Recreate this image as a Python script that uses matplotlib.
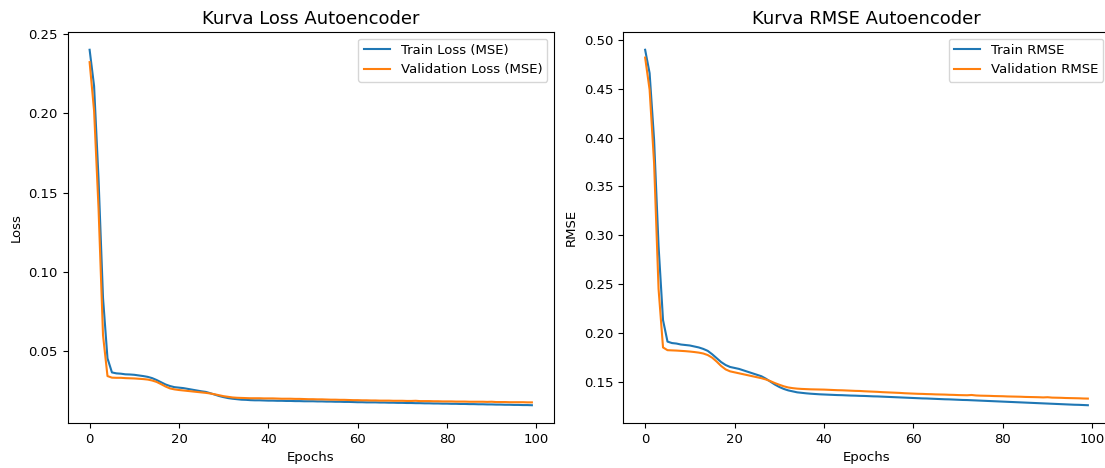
import numpy as np
import matplotlib
matplotlib.use("Agg")
import matplotlib.pyplot as plt

# values (100 epochs)
train_loss = [
    0.2401, 0.2172, 0.1584, 0.0835, 0.0454, 0.0365, 0.0359, 0.0357, 0.0353, 0.0352,
    0.0350, 0.0346, 0.0342, 0.0337, 0.0329, 0.0317, 0.0303, 0.0289, 0.0279, 0.0272,
    0.0269, 0.0266, 0.0261, 0.0256, 0.0251, 0.0246, 0.0242, 0.0234, 0.0225, 0.0216,
    0.0209, 0.0203, 0.0199, 0.0196, 0.0193, 0.0192, 0.0190, 0.0189, 0.0189, 0.0188,
    0.0187, 0.0187, 0.0186, 0.0186, 0.0185, 0.0185, 0.0184, 0.0184, 0.0183, 0.0183,
    0.0183, 0.0182, 0.0182, 0.0181, 0.0181, 0.0180, 0.0180, 0.0179, 0.0179, 0.0178,
    0.0177, 0.0177, 0.0176, 0.0176, 0.0176, 0.0175, 0.0175, 0.0174, 0.0174, 0.0173,
    0.0173, 0.0172, 0.0172, 0.0171, 0.0171, 0.0170, 0.0170, 0.0169, 0.0169, 0.0168,
    0.0168, 0.0167, 0.0167, 0.0166, 0.0166, 0.0165, 0.0165, 0.0164, 0.0164, 0.0163,
    0.0163, 0.0162, 0.0162, 0.0161, 0.0161, 0.0160, 0.0160, 0.0159, 0.0159, 0.0158,
]
val_loss = [
    0.2323, 0.2016, 0.1399, 0.0600, 0.0342, 0.0332, 0.0331, 0.0331, 0.0329, 0.0328,
    0.0327, 0.0325, 0.0323, 0.0320, 0.0314, 0.0305, 0.0291, 0.0276, 0.0264, 0.0258,
    0.0254, 0.0251, 0.0248, 0.0245, 0.0242, 0.0239, 0.0236, 0.0232, 0.0227, 0.0221,
    0.0215, 0.0211, 0.0207, 0.0205, 0.0204, 0.0203, 0.0202, 0.0202, 0.0202, 0.0201,
    0.0201, 0.0201, 0.0200, 0.0199, 0.0199, 0.0199, 0.0198, 0.0198, 0.0197, 0.0196,
    0.0196, 0.0195, 0.0195, 0.0194, 0.0193, 0.0193, 0.0192, 0.0192, 0.0191, 0.0190,
    0.0190, 0.0189, 0.0189, 0.0188, 0.0188, 0.0187, 0.0187, 0.0187, 0.0186, 0.0186,
    0.0186, 0.0185, 0.0185, 0.0186, 0.0184, 0.0184, 0.0184, 0.0183, 0.0183, 0.0182,
    0.0182, 0.0182, 0.0181, 0.0181, 0.0181, 0.0180, 0.0180, 0.0180, 0.0180, 0.0179,
    0.0180, 0.0178, 0.0178, 0.0178, 0.0177, 0.0177, 0.0177, 0.0177, 0.0176, 0.0176,
]
train_rmse = [
    0.4900, 0.4660, 0.3980, 0.2890, 0.2130, 0.1910, 0.1895, 0.1890, 0.1880, 0.1875,
    0.1870, 0.1860, 0.1850, 0.1835, 0.1815, 0.1780, 0.1740, 0.1700, 0.1670, 0.1650,
    0.1640, 0.1630, 0.1615, 0.1600, 0.1585, 0.1570, 0.1555, 0.1530, 0.1500, 0.1470,
    0.1445, 0.1425, 0.1410, 0.1400, 0.1390, 0.1385, 0.1380, 0.1376, 0.1373, 0.1370,
    0.1368, 0.1366, 0.1364, 0.1362, 0.1361, 0.1359, 0.1357, 0.1356, 0.1354, 0.1353,
    0.1351, 0.1349, 0.1348, 0.1346, 0.1344, 0.1342, 0.1340, 0.1338, 0.1336, 0.1334,
    0.1332, 0.1330, 0.1328, 0.1327, 0.1325, 0.1323, 0.1321, 0.1319, 0.1318, 0.1316,
    0.1314, 0.1312, 0.1311, 0.1309, 0.1307, 0.1305, 0.1303, 0.1301, 0.1299, 0.1297,
    0.1295, 0.1293, 0.1291, 0.1289, 0.1287, 0.1285, 0.1283, 0.1281, 0.1279, 0.1277,
    0.1275, 0.1273, 0.1271, 0.1269, 0.1267, 0.1265, 0.1263, 0.1262, 0.1260, 0.1258,
]
val_rmse = [
    0.4820, 0.4490, 0.3740, 0.2450, 0.1850, 0.1822, 0.1820, 0.1818, 0.1815, 0.1812,
    0.1808, 0.1803, 0.1797, 0.1788, 0.1772, 0.1745, 0.1705, 0.1660, 0.1625, 0.1605,
    0.1595, 0.1585, 0.1575, 0.1565, 0.1555, 0.1545, 0.1535, 0.1522, 0.1505, 0.1485,
    0.1468, 0.1452, 0.1440, 0.1433, 0.1428, 0.1425, 0.1423, 0.1421, 0.1420, 0.1419,
    0.1418, 0.1416, 0.1414, 0.1412, 0.1411, 0.1409, 0.1407, 0.1405, 0.1404, 0.1401,
    0.1399, 0.1397, 0.1395, 0.1392, 0.1390, 0.1388, 0.1386, 0.1384, 0.1381, 0.1379,
    0.1377, 0.1375, 0.1374, 0.1372, 0.1371, 0.1369, 0.1368, 0.1367, 0.1365, 0.1364,
    0.1362, 0.1361, 0.1360, 0.1363, 0.1358, 0.1356, 0.1355, 0.1354, 0.1352, 0.1351,
    0.1350, 0.1348, 0.1347, 0.1346, 0.1345, 0.1343, 0.1342, 0.1341, 0.1340, 0.1338,
    0.1340, 0.1336, 0.1335, 0.1334, 0.1332, 0.1331, 0.1330, 0.1329, 0.1327, 0.1326,
]
epochs = np.arange(len(train_loss))

fig = plt.figure(figsize=(11.05, 4.68), dpi=100)
W, H = 1105, 468
ax1 = fig.add_axes([67.5 / W, (H - 423) / H, (554 - 67.5) / W, (423 - 32) / H])
ax2 = fig.add_axes([623 / W, (H - 423) / H, (1110 - 623) / W, (423 - 32) / H])

fs = 9.5
ax1.plot(epochs, train_loss, label='Train Loss (MSE)', lw=1.5)
ax1.plot(epochs, val_loss, label='Validation Loss (MSE)', lw=1.5)
ax1.set_title('Kurva Loss Autoencoder', fontsize=13)
ax1.set_xlabel('Epochs', fontsize=fs)
ax1.set_ylabel('Loss', fontsize=fs)
ax1.legend(fontsize=fs, loc='upper right')

ax2.plot(epochs, train_rmse, label='Train RMSE', lw=1.5)
ax2.plot(epochs, val_rmse, label='Validation RMSE', lw=1.5)
ax2.set_title('Kurva RMSE Autoencoder', fontsize=13)
ax2.set_xlabel('Epochs', fontsize=fs)
ax2.set_ylabel('RMSE', fontsize=fs)
ax2.legend(fontsize=fs, loc='upper right')

for ax in (ax1, ax2):
    ax.tick_params(labelsize=fs)

fig.savefig('out.png', dpi=100)
